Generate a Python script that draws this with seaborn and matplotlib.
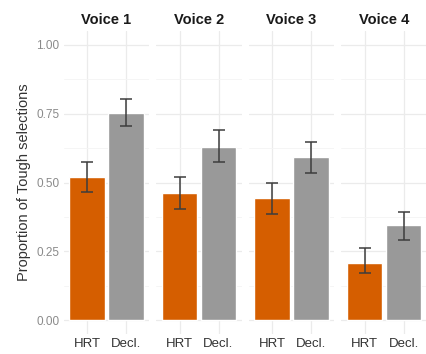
import matplotlib
matplotlib.use("Agg")
import matplotlib.pyplot as plt
import seaborn as sns
import pandas as pd
from matplotlib.ticker import MultipleLocator

# Proportion of "Tough" selections by voice and condition, with error bounds
voices = ["Voice 1", "Voice 2", "Voice 3", "Voice 4"]
conditions = ["HRT", "Decl."]
hrt_mean = [0.52, 0.462, 0.444, 0.207]
hrt_low = [0.465, 0.404, 0.385, 0.171]
hrt_high = [0.575, 0.520, 0.498, 0.262]
decl_mean = [0.753, 0.629, 0.593, 0.345]
decl_low = [0.705, 0.575, 0.535, 0.291]
decl_high = [0.804, 0.691, 0.647, 0.393]

rows = []
for i, v in enumerate(voices):
    rows.append(dict(voice=v, cond="HRT", mean=hrt_mean[i], lo=hrt_low[i], hi=hrt_high[i]))
    rows.append(dict(voice=v, cond="Decl.", mean=decl_mean[i], lo=decl_low[i], hi=decl_high[i]))
df = pd.DataFrame(rows)

sns.set_theme(style="whitegrid")
plt.rcParams["font.family"] = ["Liberation Sans", "DejaVu Sans"]

W, H = 427, 354
fig = plt.figure(figsize=(W / 100, H / 100), dpi=100)

palette = {"HRT": "#D55E00", "Decl.": "#999999"}
unit = 39.0
panel_w = 2.2 * unit
gap = 6.7
left0 = 63.6
top_px, bot_px = 31, 334

for i, v in enumerate(voices):
    x0 = left0 + i * (panel_w + gap)
    ax = fig.add_axes([x0 / W, (H - bot_px) / H, panel_w / W, (bot_px - top_px) / H])
    sub = df[df.voice == v]
    sns.barplot(data=sub, x="cond", y="mean", hue="cond", order=conditions,
                palette=palette, width=0.9, errorbar=None, legend=False,
                saturation=1, ax=ax, zorder=2)
    pos = [conditions.index(c) for c in sub.cond]
    ax.errorbar(pos, sub["mean"],
                yerr=[sub["mean"] - sub["lo"], sub["hi"] - sub["mean"]],
                fmt="none", ecolor="#3d3d3d", elinewidth=1.1, capsize=4,
                capthick=1.1, zorder=3)
    ax.set_xlim(-0.6, 1.6)
    ax.set_ylim(-0.05, 1.05)
    ax.yaxis.set_major_locator(MultipleLocator(0.25))
    ax.yaxis.set_minor_locator(MultipleLocator(0.125))
    ax.grid(True, which="major", color="#ebebeb", linewidth=0.9, zorder=0)
    ax.grid(True, which="minor", axis="y", color="#f4f4f4", linewidth=0.6, zorder=0)
    ax.set_axisbelow(True)
    for s in ax.spines.values():
        s.set_visible(False)
    ax.set_xlabel("")
    ax.set_title(v, fontsize=10.5, fontweight="bold", color="#1a1a1a", pad=5)
    ax.tick_params(axis="x", length=0, labelsize=9.5, labelcolor="#333333", pad=3)
    ax.tick_params(axis="y", which="both", length=0, labelsize=8.5,
                   labelcolor="#8a8a8a", pad=3)
    if i == 0:
        ax.set_ylabel("Proportion of Tough selections", fontsize=10.5,
                      color="#333333", labelpad=4)
        ax.set_yticks([0, 0.25, 0.5, 0.75, 1.0])
        ax.set_yticklabels(["0.00", "0.25", "0.50", "0.75", "1.00"])
    else:
        ax.set_ylabel("")
        ax.tick_params(axis="y", which="both", labelleft=False)

fig.savefig("out.png", dpi=100, facecolor="white")
